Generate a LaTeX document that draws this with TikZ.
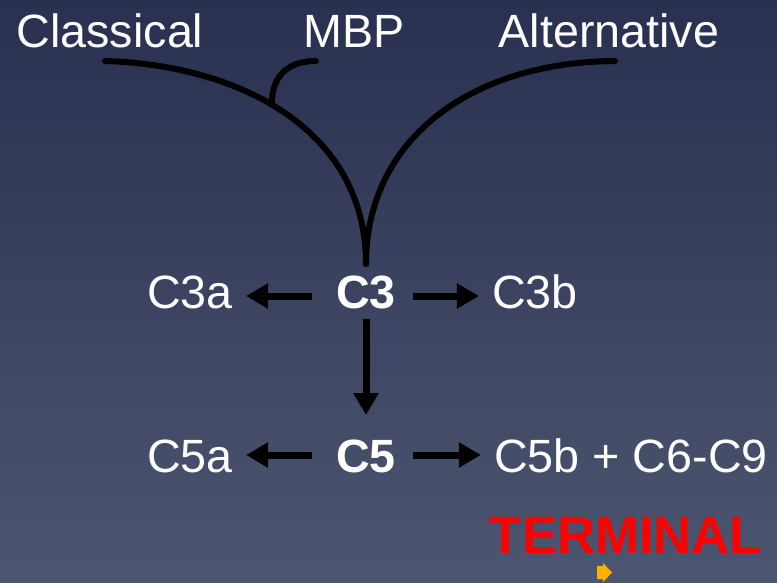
\documentclass[tikz,border=0pt]{standalone}
\usepackage{fontspec}
\setmainfont{Liberation Sans}
\usepackage{tikz}
\usetikzlibrary{arrows.meta,positioning}

\definecolor{bgtop}{HTML}{293050}
\definecolor{bgbot}{HTML}{4D5670}
\definecolor{tipgold}{HTML}{FFB000}

\begin{document}
\begin{tikzpicture}[x=0.75pt, y=-0.75pt,
  lbl/.style={white, inner sep=0pt, anchor=base, font=\fontsize{35}{42}\selectfont},
  bold/.style={font=\fontsize{35}{42}\selectfont\bfseries},
  arr/.style={line width=5.25pt, -{Triangle[length=16.5pt, width=18pt]}},
  branch/.style={line width=4.5pt, line cap=round}]
  % 背景
  \useasboundingbox (0,0) rectangle (777,582);
  \fill[top color=bgtop, bottom color=bgbot] (0,0) rectangle (777,582);

  % 三条途径
  \node[lbl] (classical) at (110,47) {Classical};
  \node[lbl] (mbp) at (354,47) {MBP};
  \node[lbl] (alt) at (609,47) {Alternative};

  % C3 / C5 两行
  \node[lbl] (c3a) at (190,308) {C3a};
  \node[lbl, bold] (c3) at (366,308) {C3};
  \node[lbl] (c3b) at (535,308) {C3b};

  \node[lbl] (c5a) at (190,472) {C5a};
  \node[lbl, bold] (c5) at (366,472) {C5};
  \node[lbl] (c5b) at (631,472) {C5b + C6-C9};

  \node[lbl, red, font=\fontsize{39.5}{47}\selectfont\bfseries] (term) at (626,553) {TERMINAL};

  % 汇合曲线
  \coordinate (join) at (366,264);
  \coordinate (cl) at (105,61);
  \coordinate (al) at (615,61);
  \coordinate (mb) at (316,61);
  \coordinate (mbfoot) at (272,103);
  \draw[branch] (cl) .. controls (240,65) and (366,130) .. (join);
  \draw[branch] (al) .. controls (470,62) and (366,140) .. (join);
  \draw[branch] (mb) .. controls (284,61) and (272,80) .. (mbfoot);

  % 箭头
  \draw[arr] ([shift={(-24,-12)}]c3.base west) -- ([shift={(13,-12)}]c3a.base east);
  \draw[arr] ([shift={(17,-12)}]c3.base east) -- ([shift={(-13,-12)}]c3b.base west);
  \draw[arr] ([shift={(0,11)}]c3.base) -- ([shift={(0,-57)}]c5.base);
  \draw[arr] ([shift={(-24,-17)}]c5.base west) -- ([shift={(13,-17)}]c5a.base east);
  \draw[arr] ([shift={(17,-17)}]c5.base east) -- ([shift={(-13,-17)}]c5b.base west);

  % 小箭头标记
  \fill[tipgold] (597,566) -- (603,566) -- (603,563) -- (612,572.5) -- (603,582)
    -- (603,579) -- (597,579) -- cycle;
\end{tikzpicture}
\end{document}
